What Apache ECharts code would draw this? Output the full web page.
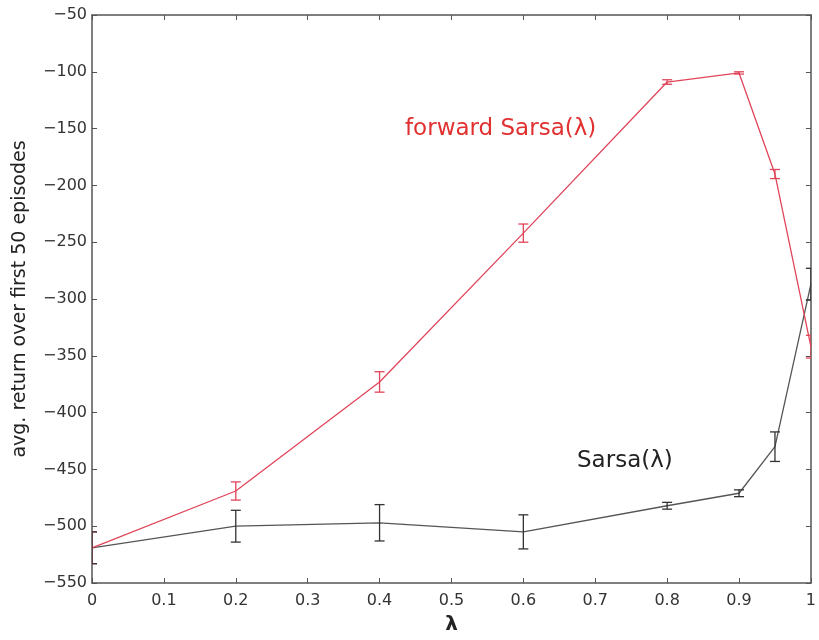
<!DOCTYPE html>
<html>
<head>
<meta charset="utf-8">
<script src="https://cdn.jsdelivr.net/npm/echarts@6/dist/echarts.min.js"></script>
<style>
  html, body { margin: 0; padding: 0; background: #fff; }
  #chart { width: 819px; height: 640px; }
</style>
</head>
<body>
<div id="chart"></div>
<script>
// lambda values on the x axis
const lambdas = [0, 0.2, 0.4, 0.6, 0.8, 0.9, 0.95, 1];
// forward Sarsa(λ): mean return and error bar half-length
const forwardMean = [-519, -469, -373, -242, -109, -101, -190, -342];
const forwardErr = [14, 8, 9, 8, 2, 1, 4, 10];
// Sarsa(λ)
const sarsaMean = [-519, -500, -497, -505, -482, -471, -430, -287];
const sarsaErr = [14, 14, 16, 15, 3, 3, 13, 14];

const RED = '#e0455a';
const BLACK = '#333';
const AXIS = '#555';
const FONT = 'DejaVu Sans, sans-serif';

const pairs = (xs, ys) => xs.map((x, i) => [x, ys[i]]);
const errRows = (xs, ys, es) => xs.map((x, i) => [x, ys[i] - es[i], ys[i] + es[i]]);
const minus = s => String(s).replace('-', '\u2212');

// error bar: vertical line with caps
const errorBar = color => (params, api) => {
  const lo = api.coord([api.value(0), api.value(1)]);
  const hi = api.coord([api.value(0), api.value(2)]);
  const w = 5;
  const style = { stroke: color, lineWidth: 1.3 };
  return {
    type: 'group',
    children: [
      { type: 'line', shape: { x1: lo[0], y1: lo[1], x2: hi[0], y2: hi[1] }, style },
      { type: 'line', shape: { x1: lo[0] - w, y1: lo[1], x2: lo[0] + w, y2: lo[1] }, style },
      { type: 'line', shape: { x1: hi[0] - w, y1: hi[1], x2: hi[0] + w, y2: hi[1] }, style }
    ]
  };
};

const chart = echarts.init(document.getElementById('chart'));

const baseX = {
  type: 'value', min: 0, max: 1, interval: 0.1,
  axisLine: { show: true, onZero: false, lineStyle: { color: AXIS, width: 1.5 } },
  axisTick: { show: true, inside: true, length: 5, lineStyle: { color: AXIS } },
  splitLine: { show: false }
};
const baseY = {
  type: 'value', min: -550, max: -50, interval: 50,
  axisLine: { show: true, onZero: false, lineStyle: { color: AXIS, width: 1.5 } },
  axisTick: { show: true, inside: true, length: 5, lineStyle: { color: AXIS } },
  splitLine: { show: false }
};

chart.setOption({
  animation: false,
  backgroundColor: '#fff',
  grid: { left: 92, right: 2, top: 15, bottom: 52 },
  xAxis: [
    Object.assign({}, baseX, {
      position: 'bottom',
      name: 'λ', nameLocation: 'middle', nameGap: 32,
      nameTextStyle: { fontFamily: FONT, fontSize: 20, fontWeight: 'bold', color: '#222' },
      axisLabel: {
        color: '#333', fontFamily: FONT, fontSize: 16, margin: 10,
        formatter: v => String(Math.round(v * 10) / 10)
      }
    }),
    Object.assign({}, baseX, { position: 'top', axisLabel: { show: false } })
  ],
  yAxis: [
    Object.assign({}, baseY, {
      position: 'left',
      name: 'avg. return over first 50 episodes', nameLocation: 'middle', nameGap: 62,
      nameTextStyle: { fontFamily: FONT, fontSize: 19, color: '#222' },
      axisLabel: { color: '#333', fontFamily: FONT, fontSize: 16, margin: 5, formatter: minus }
    }),
    Object.assign({}, baseY, { position: 'right', axisLabel: { show: false } })
  ],
  series: [
    {
      name: 'forward Sarsa(λ)', type: 'line', data: pairs(lambdas, forwardMean),
      symbol: 'none', lineStyle: { color: RED, width: 1.3 }, z: 3
    },
    {
      name: 'Sarsa(λ)', type: 'line', data: pairs(lambdas, sarsaMean),
      symbol: 'none', lineStyle: { color: '#555', width: 1.3 }, z: 2
    },
    {
      type: 'custom', data: errRows(lambdas, forwardMean, forwardErr),
      renderItem: errorBar(RED), clip: true, z: 4
    },
    {
      type: 'custom', data: errRows(lambdas, sarsaMean, sarsaErr),
      renderItem: errorBar(BLACK), clip: true, z: 4
    }
  ],
  graphic: [
    {
      type: 'text', left: 405, top: 118,
      style: { text: 'forward Sarsa(λ)', fill: '#e0302f', font: '23px ' + FONT }
    },
    {
      type: 'text', left: 577, top: 450,
      style: { text: 'Sarsa(λ)', fill: '#222', font: '23px ' + FONT }
    }
  ]
});
</script>
</body>
</html>
